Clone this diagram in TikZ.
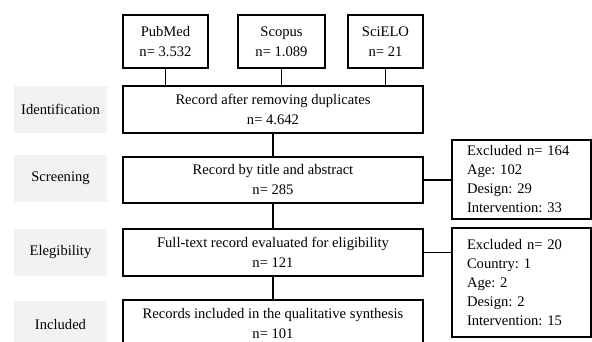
\documentclass[tikz,border=0pt]{standalone}
\usepackage{fontspec}
\setmainfont{Liberation Serif}
\definecolor{labgray}{HTML}{F2F2F2}
\frenchspacing
\begin{document}
\begin{tikzpicture}[x=1pt,y=-1pt,
  font=\fontsize{14.6}{20}\selectfont\frenchspacing,
  box/.style={draw, line width=1.4pt, align=center, inner sep=0pt},
  lab/.style={fill=labgray, inner sep=0pt, minimum width=93pt, minimum height=47pt},
  exc/.style={draw, line width=1.4pt, align=left, inner sep=0pt, text width=109pt,
    minimum width=139pt, font=\fontsize{14.6}{19}\selectfont\frenchspacing},
  conn/.style={line width=1.4pt}]
\useasboundingbox (0,0) rectangle (592,342);
% database boxes
\node[box, minimum width=85pt, minimum height=53pt] (pub) at (165.5,41.5) {PubMed\\n= 3.532};
\node[box, minimum width=87pt, minimum height=53pt] (sco) at (281.5,41.5) {Scopus\\n= 1.089};
\node[box, minimum width=75pt, minimum height=53pt] (sci) at (385.5,41.5) {SciELO\\n= 21};
% main flow
\node[box, minimum width=300pt, minimum height=47pt] (dup) at (273,109.5) {Record after removing duplicates\\n= 4.642};
\node[box, minimum width=300pt, minimum height=46pt] (scr) at (273,180) {Record by title and abstract\\n= 285};
\node[box, minimum width=300pt, minimum height=47pt] (eli) at (273,252.5) {Full-text record evaluated for eligibility\\n= 121};
\node[box, minimum width=300pt, minimum height=48pt] (inc) at (273,324) {Records included in the qualitative synthesis\\n= 101};
% stage labels
\node[lab] (lid) at (60.5,109.5) {Identification};
\node[lab] (lsc) at (60.5,178.5) {Screening};
\node[lab] (lel) at (60.5,252.5) {Elegibility};
\node[lab] (lin) at (60.5,324.5) {Included};
% exclusion boxes
\node[exc, minimum height=79pt] (ex1) at (521.5,179.5) {Excluded n= 164\\Age: 102\\Design: 29\\Intervention: 33};
\node[exc, minimum height=109pt] (ex2) at (521.5,282.5) {Excluded n= 20\\Country: 1\\Age: 2\\Design: 2\\Intervention: 15};
% connectors
\draw[conn] (pub.south) -- (pub.south |- dup.north);
\draw[conn] (sco.south) -- (sco.south |- dup.north);
\draw[conn] (sci.south) -- (sci.south |- dup.north);
\draw[conn] (dup.south) -- (scr.north);
\draw[conn] (scr.south) -- (eli.north);
\draw[conn] (eli.south) -- (inc.north);
\draw[conn] (scr.east) -- (scr.east -| ex1.west);
\draw[conn] (eli.east) -- (eli.east -| ex2.west);
\end{tikzpicture}
\end{document}
